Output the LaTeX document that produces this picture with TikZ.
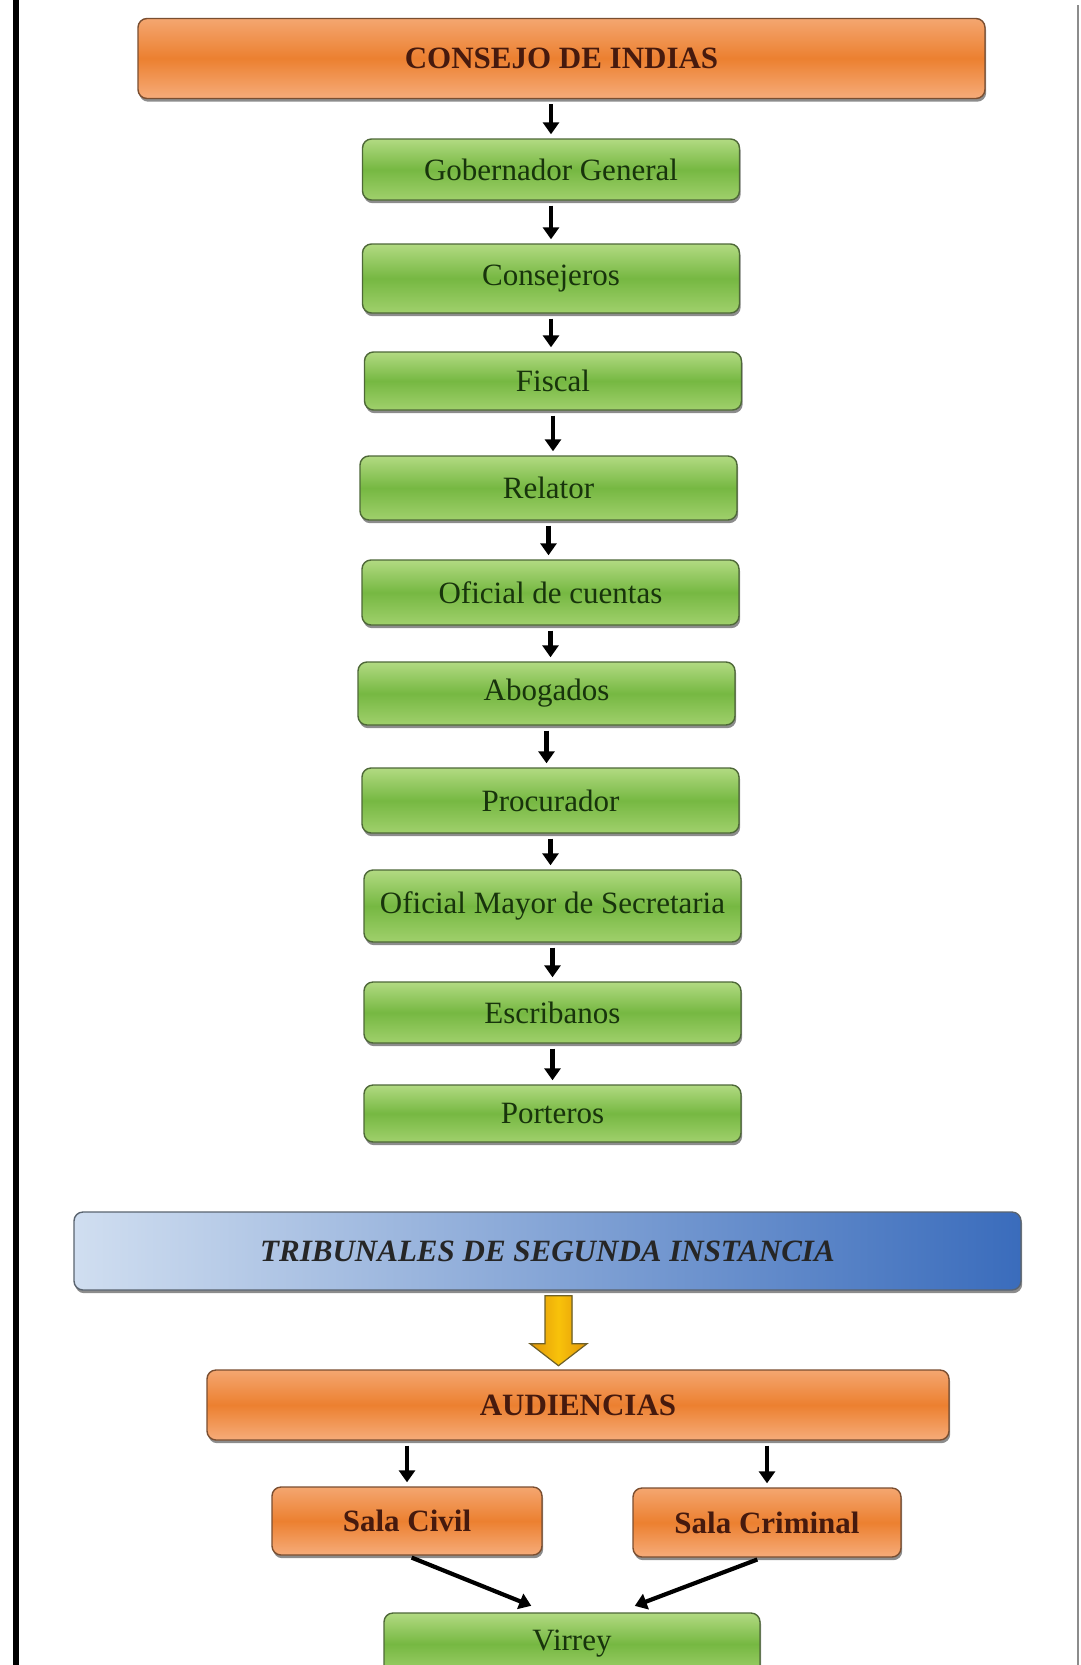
\documentclass[tikz,border=0pt]{standalone}
\usepackage{fontspec}
\setmainfont{Liberation Serif}
\usetikzlibrary{arrows.meta,shadows,calc}
\definecolor{gtop}{RGB}{178,218,130}
\definecolor{gmid}{RGB}{118,184,66}
\definecolor{gbot}{RGB}{160,208,108}
\definecolor{gline}{RGB}{78,104,56}
\definecolor{gtext}{RGB}{24,52,12}
\definecolor{otop}{RGB}{244,166,112}
\definecolor{omid}{RGB}{236,128,48}
\definecolor{obot}{RGB}{246,172,122}
\definecolor{oline}{RGB}{122,78,48}
\definecolor{otext}{RGB}{70,26,14}
\definecolor{bleft}{RGB}{208,222,240}
\definecolor{bright}{RGB}{58,108,188}
\definecolor{bline}{RGB}{90,100,112}
\definecolor{yfill}{RGB}{248,194,10}
\definecolor{ydark}{RGB}{226,150,10}
\definecolor{yline}{RGB}{110,96,40}
\tikzset{
  basebox/.style={rectangle, rounded corners=4.5pt, line width=0.7pt, inner sep=0pt,
    drop shadow={shadow xshift=0.6pt, shadow yshift=-1.6pt, fill=black, opacity=0.45}},
  gbox/.style={basebox, draw=gline, top color=gtop, bottom color=gbot, middle color=gmid,
    minimum width=188.5pt, text=gtext, font=\fontsize{15.5}{18}\selectfont},
  obox/.style={basebox, draw=oline, top color=otop, bottom color=obot, middle color=omid,
    text=otext, font=\fontsize{15.5}{18}\selectfont\bfseries},
  bbox/.style={basebox, draw=bline, left color=bleft, right color=bright,
    text=black!85, font=\fontsize{15.5}{18}\selectfont\bfseries\itshape},
  arr/.style={line width=2.1pt, -{Triangle[length=6pt,width=8pt]}, shorten <=2.5pt, shorten >=2pt}
}
\begin{document}
\begin{tikzpicture}[x=0.5pt,y=-0.5pt]
\useasboundingbox (0,0) rectangle (1081,1665);
\clip (0,0) rectangle (1081,1665);
\fill[white] (0,0) rectangle (1081,1665);
% frame lines
\draw[line width=3pt] (16,0) -- (16,1665);
\draw[line width=0.8pt, black!45] (1078,5) -- (1078,1665);

% top chain
\node[obox, minimum width=423.5pt, minimum height=40pt] (cdi) at (561.5,58.5) {CONSEJO DE INDIAS};
\node[gbox, minimum height=30.5pt] (gob) at (551,169.5) {Gobernador General};
\node[gbox, minimum height=34.5pt] (con) at (551,278.5) {Consejeros};
\node[gbox, minimum height=29pt] (fis) at (553,381) {Fiscal};
\node[gbox, minimum height=32pt] (rel) at (548.5,488) {Relator};
\node[gbox, minimum height=32.5pt] (ofc) at (550.5,592.5) {Oficial de cuentas};
\node[gbox, minimum height=31.5pt] (abo) at (546.5,693.5) {Abogados};
\node[gbox, minimum height=32.5pt] (pro) at (550.5,800.5) {Procurador};
\node[gbox, minimum height=36pt] (ofm) at (552.5,906) {Oficial Mayor de Secretaria};
\node[gbox, minimum height=30.5pt] (esc) at (552.5,1012.5) {Escribanos};
\node[gbox, minimum height=28.5pt] (por) at (552.5,1113.5) {Porteros};

\draw[arr] (cdi.south -| gob) -- (gob.north);
\draw[arr] (gob.south) -- (con.north);
\draw[arr] (con.south) -- (fis.north -| con);
\draw[arr] (fis.south) -- (rel.north -| fis);
\draw[arr] (rel.south) -- (ofc.north -| rel);
\draw[arr] (ofc.south) -- (abo.north -| ofc);
\draw[arr] (abo.south) -- (pro.north -| abo);
\draw[arr] (pro.south) -- (ofm.north -| pro);
\draw[arr] (ofm.south) -- (esc.north);
\draw[arr] (esc.south) -- (por.north);

% lower part
\node[bbox, minimum width=473.5pt, minimum height=39pt] (trib) at (547.5,1251) {TRIBUNALES DE SEGUNDA INSTANCIA};
\node[obox, minimum width=371pt, minimum height=35pt] (aud) at (578,1405) {AUDIENCIAS};
\node[obox, minimum width=135pt, minimum height=34pt] (civ) at (407,1521) {Sala Civil};
\node[obox, minimum width=134pt, minimum height=34.5pt] (cri) at (767,1522.5) {Sala Criminal};
\node[gbox, minimum width=188pt, minimum height=31pt] (vir) at (572,1644) {Virrey};

% yellow block arrow from trib to aud
\coordinate (ya) at ($(trib.south)+(11,5)$);
\filldraw[draw=yline, line width=0.6pt, left color=ydark, right color=ydark, middle color=yfill]
  ($(ya)+(-13.5,0)$) -- ($(ya)+(13.5,0)$) -- ($(ya)+(13.5,48)$) -- ($(ya)+(28.5,48)$)
  -- ($(ya)+(0,70)$) -- ($(ya)+(-28.5,48)$) -- ($(ya)+(-13.5,48)$) -- cycle;

\draw[arr] (aud.south -| civ) -- (civ.north);
\draw[arr] (aud.south -| cri) -- (cri.north);
\draw[arr] (civ.south) -- ($(vir.north)+(-37,-5)$);
\draw[arr] ($(cri.south)+(-5,0)$) -- ($(vir.north)+(59,-5)$);
\end{tikzpicture}
\end{document}
